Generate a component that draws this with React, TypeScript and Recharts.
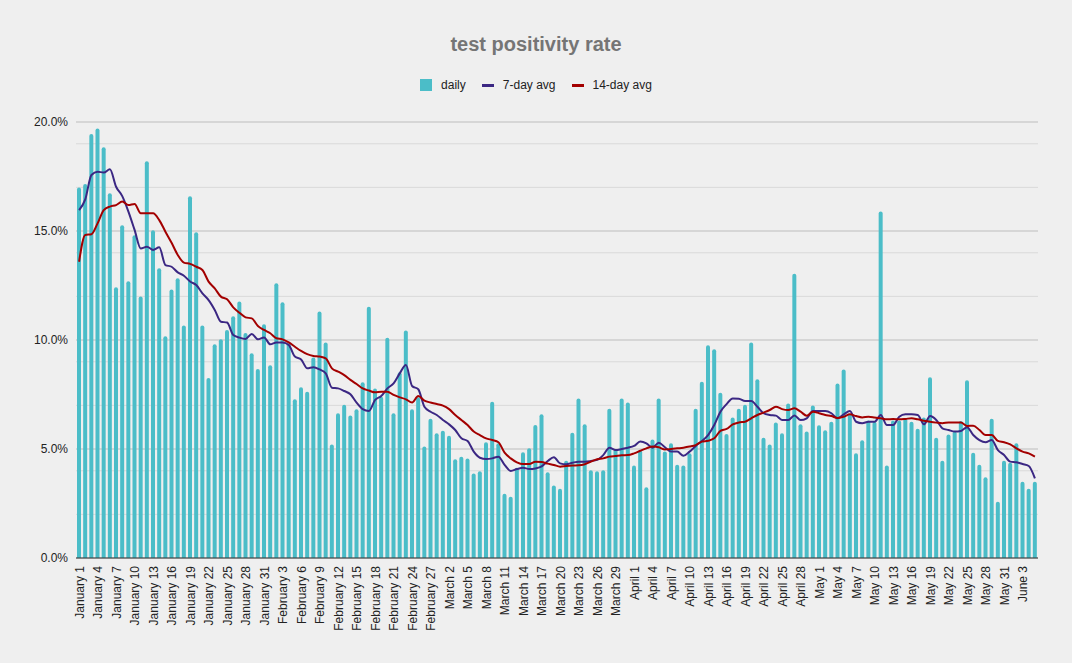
import React from 'react';
import { ComposedChart, Bar, Line, XAxis, YAxis, CartesianGrid } from 'recharts';

// month name, number of days shown
const months: [string, number][] = [
  ['January', 31],
  ['February', 28],
  ['March', 31],
  ['April', 30],
  ['May', 31],
  ['June', 5],
];

const daily = [
  17.0, 17.16, 19.45, 19.7, 18.84, 16.73, 12.42, 15.26, 12.69, 14.8, 12.0, 18.2, 15.03, 13.29, 10.17, 12.32, 12.83, 10.67, 16.59, 14.94, 10.67, 8.26, 9.8, 10.03, 10.46, 11.09, 11.77, 10.32, 9.39, 8.67, 10.72,
  8.84, 12.6, 11.73, 9.85, 7.28, 7.83, 7.63, 9.2, 11.31, 9.89, 5.21, 6.64, 7.03, 6.54, 6.82, 8.06, 11.53, 7.78, 7.4, 10.1, 6.64, 8.52, 10.44, 6.82, 7.37, 5.11, 6.39, 5.72,
  5.84, 5.61, 4.53, 4.65, 4.56, 3.88, 3.98, 5.31, 7.17, 5.26, 2.95, 2.81, 4.14, 4.85, 5.03, 6.1, 6.59, 3.93, 3.33, 3.18, 4.46, 5.75, 7.32, 6.13, 4.02, 3.98, 4.02, 6.85, 4.98, 7.32, 7.13,
  4.24, 4.95, 3.24, 5.44, 7.32, 4.89, 5.26, 4.28, 4.24, 4.8, 6.85, 8.09, 9.76, 9.57, 7.58, 5.69, 6.45, 6.85, 7.03, 9.89, 8.2, 5.52, 5.21, 6.22, 5.72, 7.09, 13.04, 6.13, 5.8, 7.0,
  6.09, 5.86, 6.25, 8.01, 8.65, 6.59, 4.8, 5.4, 6.31, 6.25, 15.89, 4.24, 6.31, 6.31, 6.42, 6.25, 5.93, 6.45, 8.29, 5.52, 4.46, 5.67, 5.8, 6.28, 8.15, 4.83, 4.28, 3.7, 6.39, 2.58, 4.46,
  4.37, 5.26, 3.5, 3.18, 3.5,
];

const avg7 = [
  15.96, 16.45, 17.57, 17.72, 17.68, 17.83, 17.03, 16.6, 15.89, 15.05, 14.2, 14.28, 14.13, 14.25, 13.44, 13.36, 13.1, 12.95, 12.68, 12.52, 12.14, 11.83, 11.38, 10.84, 10.8, 10.23, 10.11, 10.05, 10.28, 10.03, 10.12,
  9.8, 9.89, 9.89, 9.77, 9.24, 9.11, 8.7, 8.75, 8.65, 8.47, 7.81, 7.78, 7.66, 7.51, 7.13, 6.83, 6.74, 7.25, 7.43, 7.78, 8.01, 8.47, 8.85, 7.89, 7.74, 6.94, 6.71, 6.56,
  6.33, 6.13, 5.87, 5.49, 5.37, 4.88, 4.6, 4.54, 4.57, 4.65, 4.27, 3.99, 4.08, 4.14, 4.08, 4.11, 4.2, 4.45, 4.62, 4.34, 4.3, 4.37, 4.42, 4.42, 4.45, 4.5, 4.72, 5.06, 4.95, 5.0, 5.06,
  5.14, 5.34, 5.26, 5.06, 5.29, 5.08, 4.88, 4.88, 4.69, 4.88, 5.14, 5.37, 5.64, 6.1, 6.71, 7.06, 7.32, 7.31, 7.2, 7.2, 6.94, 6.64, 6.56, 6.53, 6.33, 6.33, 6.54, 6.33, 6.41, 6.74,
  6.74, 6.74, 6.64, 6.41, 6.59, 6.74, 6.25, 6.18, 6.25, 6.25, 6.56, 6.1, 6.1, 6.48, 6.59, 6.59, 6.56, 6.13, 6.51, 6.33, 5.95, 5.87, 5.8, 5.83, 6.0, 5.64, 5.41, 5.31, 5.41, 4.95, 4.72,
  4.42, 4.39, 4.31, 4.22, 3.65,
];

const avg14 = [
  13.59, 14.82, 14.85, 15.35, 15.96, 16.12, 16.19, 16.35, 16.19, 16.24, 15.81, 15.81, 15.81, 15.5, 14.97, 14.46, 13.9, 13.55, 13.49, 13.36, 13.21, 12.68, 12.37, 11.99, 11.87, 11.5, 11.25, 11.04, 10.99, 10.64, 10.46,
  10.31, 10.08, 10.03, 9.89, 9.69, 9.5, 9.35, 9.27, 9.24, 9.16, 8.7, 8.55, 8.39, 8.17, 7.98, 7.78, 7.68, 7.6, 7.63, 7.63, 7.48, 7.37, 7.28, 7.13, 7.43, 7.22, 7.13, 7.06,
  6.99, 6.83, 6.56, 6.33, 6.1, 5.8, 5.64, 5.49, 5.41, 5.31, 4.83, 4.57, 4.39, 4.31, 4.31, 4.42, 4.4, 4.33, 4.27, 4.19, 4.22, 4.24, 4.25, 4.3, 4.42, 4.53, 4.57, 4.65, 4.68, 4.71, 4.72,
  4.8, 4.92, 5.03, 5.11, 5.08, 4.98, 5.0, 5.03, 5.06, 5.11, 5.18, 5.34, 5.38, 5.49, 5.83, 5.92, 6.13, 6.22, 6.25, 6.41, 6.56, 6.67, 6.79, 6.94, 6.83, 6.79, 6.87, 6.71, 6.53, 6.71,
  6.64, 6.56, 6.51, 6.42, 6.48, 6.59, 6.51, 6.45, 6.48, 6.45, 6.41, 6.36, 6.38, 6.36, 6.38, 6.41, 6.36, 6.3, 6.25, 6.21, 6.18, 6.22, 6.21, 6.21, 6.06, 6.07, 5.87, 5.64, 5.64, 5.37, 5.31,
  5.21, 5.03, 4.88, 4.8, 4.65,
];

const majorTicks = [0, 5, 10, 15, 20];
const minorTicks = [1, 2, 3, 4, 6, 7, 8, 9, 11, 12, 13, 14, 16, 17, 18, 19];

const dates: string[] = [];
months.forEach(([m, n]) => {
  for (let d = 1; d <= n; d++) dates.push(`${m} ${d}`);
});

const data = dates.map((date, i) => ({ date, daily: daily[i], avg7: avg7[i], avg14: avg14[i] }));

const COLORS = { daily: '#4bbdc8', avg7: '#3b2783', avg14: '#a30000' };
const FONT = '"Liberation Sans", Arial, sans-serif';

const legendItems = [
  { label: 'daily', color: COLORS.daily, kind: 'square' },
  { label: '7-day avg', color: COLORS.avg7, kind: 'line' },
  { label: '14-day avg', color: COLORS.avg14, kind: 'line' },
];

export default function App() {
  return (
    <div style={{ position: 'relative', width: 1072, height: 663, background: '#efefef', fontFamily: FONT }}>
      <style>{'body{margin:0;background:#efefef}'}</style>
      <div style={{ position: 'absolute', top: 33, left: 0, width: 1072, textAlign: 'center', fontSize: 20, fontWeight: 700, color: '#757575' }}>
        test positivity rate
      </div>
      <div style={{ position: 'absolute', top: 78, left: 0, width: 1072, display: 'flex', justifyContent: 'center', alignItems: 'center', fontSize: 12, color: '#222' }}>
        {legendItems.map((it, i) => (
          <div key={it.label} style={{ display: 'flex', alignItems: 'center', marginLeft: i === 0 ? 0 : 16 }}>
            <span style={{ display: 'inline-block', width: 12, height: it.kind === 'square' ? 12 : 3, background: it.color, marginRight: 9 }} />
            <span>{it.label}</span>
          </div>
        ))}
      </div>
      <ComposedChart width={1072} height={663} data={data} margin={{ top: 122, right: 34, left: 0, bottom: 0 }} style={{ position: 'absolute', top: 0, left: 0 }}>
        {/* minor (1%) lines, then the major 5% lines on top */}
        <CartesianGrid vertical={false} horizontalValues={minorTicks} stroke="#d9d9d9" strokeWidth={1} />
        <CartesianGrid vertical={false} stroke="#bdbdbd" strokeWidth={1} />
        <XAxis
          dataKey="date"
          interval={2}
          height={105}
          tickLine={false}
          axisLine={{ stroke: '#333' }}
          tick={{ fontSize: 12, fill: '#222', angle: -90, textAnchor: 'end', dx: -4 }}
        />
        <YAxis
          width={76}
          domain={[0, 20]}
          ticks={majorTicks}
          tickLine={false}
          axisLine={false}
          tickFormatter={(v) => `${v.toFixed(1)}%`}
          tick={{ fontSize: 12, fill: '#222' }}
        />
        <Bar dataKey="daily" fill={COLORS.daily} barSize={4} radius={[2, 2, 0, 0]} isAnimationActive={false} />
        <Line type="monotone" dataKey="avg7" stroke={COLORS.avg7} strokeWidth={2} dot={false} isAnimationActive={false} />
        <Line type="monotone" dataKey="avg14" stroke={COLORS.avg14} strokeWidth={2} dot={false} isAnimationActive={false} />
      </ComposedChart>
    </div>
  );
}
